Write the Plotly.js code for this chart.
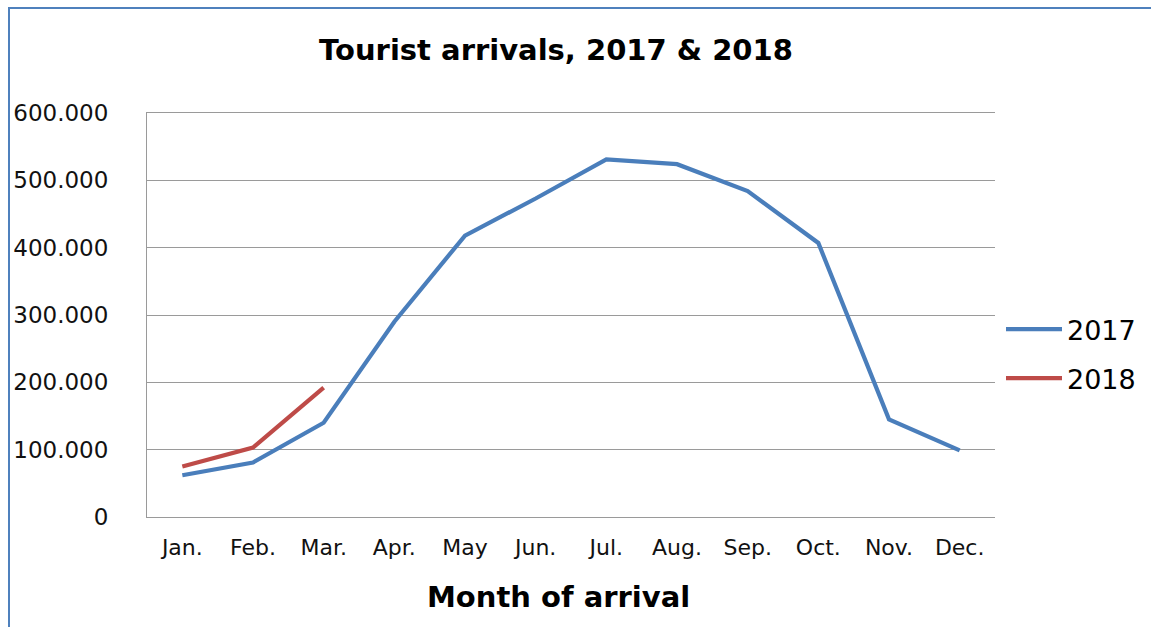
<!DOCTYPE html>
<html>
<head>
<meta charset="utf-8">
<script src="https://cdn.plot.ly/plotly-3.0.1.min.js"></script>
<style>
  html, body { margin: 0; padding: 0; background: #fff; overflow: hidden; }
  #chart { width: 1151px; height: 627px; }
  #frame { position: absolute; left: 8px; top: 7px; width: 1300px; height: 800px;
           border: 2px solid #4f81bd; pointer-events: none; }
</style>
</head>
<body>
<div id="chart"></div>
<div id="frame"></div>
<script>
const months = ["Jan.", "Feb.", "Mar.", "Apr.", "May", "Jun.", "Jul.", "Aug.", "Sep.", "Oct.", "Nov.", "Dec."];
const arrivals2017 = [62000, 81000, 140000, 290000, 418000, 473000, 531000, 524000, 484000, 407000, 145000, 99000];
const months2018 = ["Jan.", "Feb.", "Mar."];
const arrivals2018 = [75000, 103000, 192000];
const yTicks = [0, 100000, 200000, 300000, 400000, 500000, 600000];
const xTitle = "Month of arrival";

const font = "DejaVu Sans, Verdana, sans-serif";

const traces = [
  { x: months, y: arrivals2017, name: "2017", type: "scatter", mode: "lines",
    legendgroup: "a", line: { color: "#4a7ebb", width: 4.2 } },
  { x: months2018, y: arrivals2018, name: "2018", type: "scatter", mode: "lines",
    legendgroup: "b", line: { color: "#be4b48", width: 4.2 } }
];

const layout = {
  width: 1151, height: 627,
  margin: { l: 147, r: 156, t: 113, b: 110 },
  paper_bgcolor: "#ffffff", plot_bgcolor: "#ffffff",
  separators: ",.",
  font: { family: font, color: "#111", size: 22 },
  title: { text: "<b>Tourist arrivals, 2017 & 2018</b>", x: 556 / 1151, xanchor: "center",
           y: 1 - 50 / 627, yanchor: "middle", font: { family: font, size: 29, color: "#000" } },
  xaxis: {
    type: "category", categoryorder: "array", categoryarray: months,
    range: [-0.5, 11.5], showgrid: false, zeroline: false,
    showline: true, mirror: true, linecolor: "#9a9a9a", linewidth: 1,
    ticks: "", ticklabelstandoff: 11,
    tickfont: { family: font, size: 22, color: "#111" },
    fixedrange: true
  },
  yaxis: {
    range: [0, 600000], tickvals: yTicks, tickformat: ",d",
    showgrid: true, gridcolor: "#9a9a9a", gridwidth: 1,
    zeroline: false, showline: true, linecolor: "#9a9a9a", linewidth: 1,
    ticks: "", ticklabelstandoff: 33,
    tickfont: { family: font, size: 23, color: "#111" },
    fixedrange: true
  },
  annotations: [
    { text: "<b>" + xTitle + "</b>", xref: "paper", yref: "paper",
      x: (558 - 147) / 848, y: (517 - 597) / 404, xanchor: "center", yanchor: "middle",
      showarrow: false, font: { family: font, size: 29, color: "#000" } }
  ],
  showlegend: true,
  legend: { xref: "container", yref: "container",
            x: 1001 / 1151, xanchor: "left", y: 1 - 305 / 627, yanchor: "top",
            traceorder: "grouped", tracegroupgap: 11, itemwidth: 56,
            font: { family: font, size: 27, color: "#000" }, bgcolor: "rgba(0,0,0,0)" }
};

Plotly.newPlot("chart", traces, layout, { displayModeBar: false, staticPlot: true });
</script>
</body>
</html>
